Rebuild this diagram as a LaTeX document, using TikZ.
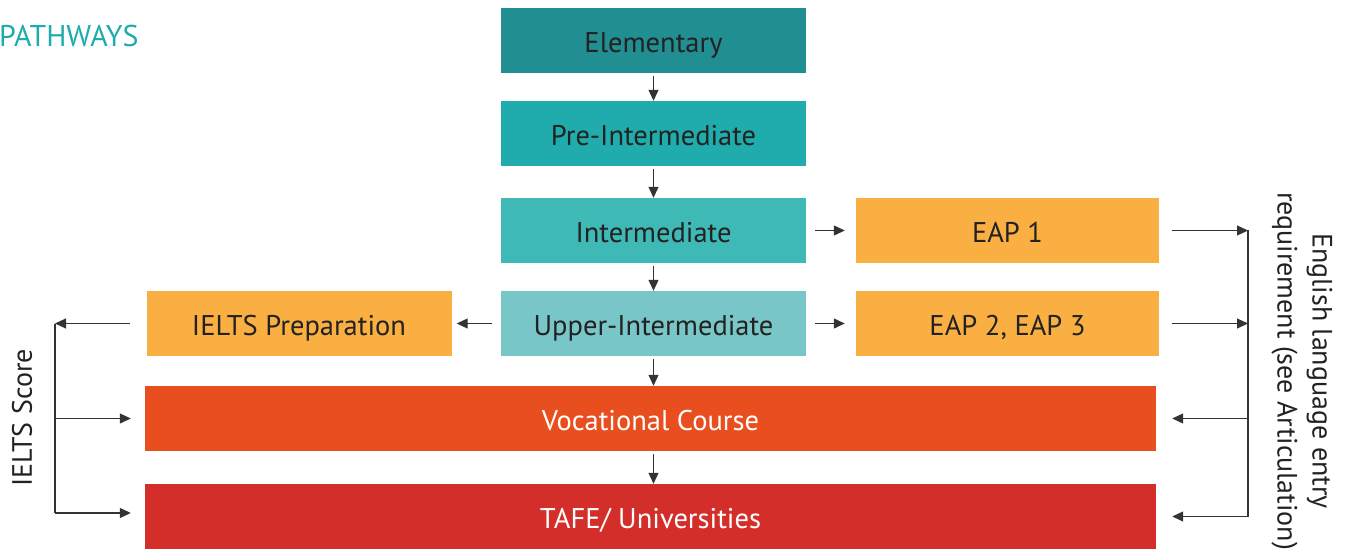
\documentclass[tikz,border=0pt]{standalone}
\usepackage{fontspec}
\setmainfont{PT Sans}
\usetikzlibrary{positioning,arrows.meta}
\definecolor{elemteal}{HTML}{218E91}
\definecolor{preteal}{HTML}{20ACAC}
\definecolor{midteal}{HTML}{3FB9B5}
\definecolor{upteal}{HTML}{78C6C8}
\definecolor{eaporange}{HTML}{F9AF41}
\definecolor{vocred}{HTML}{E94E1E}
\definecolor{tafered}{HTML}{D42E2A}
\definecolor{darktext}{HTML}{222222}
\definecolor{linegray}{HTML}{333333}
\tikzset{
  level/.style={minimum height=65pt, minimum width=305pt, inner sep=0pt,
    text height=24pt, text depth=0pt,
    font=\fontsize{28.5}{34}\selectfont, text=darktext},
  wide/.style={level, minimum width=1011pt, text=white},
  flow/.style={->, line width=1.1pt, draw=linegray},
}
\begin{document}
\begin{tikzpicture}[x=1pt, y=-1pt, >={Triangle[length=11pt,width=10pt]}]
		\useasboundingbox (0,0) rectangle (1346,553);
		\node[anchor=base west, inner sep=0pt, text=preteal, font=\fontsize{30}{34}\selectfont] (title) at (-1,47) {PATHWAYS};
		\begin{scope}[every node/.style={level}]
			\node[fill=elemteal] (elem) at (653.5,40.5) {Elementary};
			\node[fill=preteal] (pre) at (653.5,133.5) {Pre-Intermediate};
			\node[fill=midteal] (inter) at (653.5,230.5) {Intermediate};
			\node[fill=upteal] (upper) at (653.5,323.5) {Upper-Intermediate};
			\node[fill=eaporange] (ielts) at (299,323.5) {IELTS Preparation};
			\node[fill=eaporange, minimum width=303pt] (eap1) at (1007.5,230.5) {EAP 1};
			\node[fill=eaporange, minimum width=303pt] (eap2) at (1007.5,323.5) {EAP 2, EAP 3};
			\node[wide, fill=vocred] (voc) at (650.5,418.5) {Vocational Course};
			\node[wide, fill=tafered] (tafe) at (650.5,516.5) {TAFE/ Universities};
		\end{scope}
		% score and entry side labels
		\node[rotate=90, font=\fontsize{28}{32}\selectfont, text=darktext] (score) at (22,418) {IELTS Score};
		\node[rotate=-90, align=center, font=\fontsize{28}{35}\selectfont, text=darktext] (entry) at (1302,371)
			{English language entry\\requirement (see Articulation)};
		\coordinate (lt) at (55,323.5);
		\coordinate (lm) at (55,418.5);
		\coordinate (lb) at (55,513);
		\coordinate (rt) at (1248,230.5);
		\coordinate (rm) at (1248,323.5);
		\coordinate (rv) at (1248,418.5);
		\coordinate (rb) at (1248,516.5);
		\begin{scope}[every edge/.append style={flow}]
			\path (elem) edge[shorten <=3pt] (pre)
			(pre) edge[shorten <=3pt] (inter)
			(inter) edge[shorten <=3pt] (upper)
			(upper.south) edge[shorten <=3pt] (upper.south |- voc.north)
			(upper.south |- voc.south) edge[shorten <=3pt] (upper.south |- tafe.north);
			\path (inter) edge[shorten <=9pt, shorten >=11pt] (eap1)
			(upper) edge[shorten <=9pt, shorten >=11pt] (eap2)
			(upper) edge[shorten <=9pt, shorten >=5pt] (ielts);
			\path (ielts.west) edge[shorten <=16pt] (lt);
			\path (eap1.east) edge[shorten <=13pt] (rt)
			(eap2.east) edge[shorten <=13pt] (rm);
			\path (rv) edge[shorten >=16pt] (voc.east |- rv)
			(rb) edge[shorten >=16pt] (tafe.east |- rb);
			\path (lm) edge[shorten >=14pt] (voc.west |- lm)
			(lb) edge[shorten >=14pt] (tafe.west |- lb);
		\end{scope}
		\draw[line width=1.1pt, linegray] (lt) -- (lb);
		\draw[line width=1.1pt, linegray] (rt) -- (rb);
	\end{tikzpicture}
\end{document}
